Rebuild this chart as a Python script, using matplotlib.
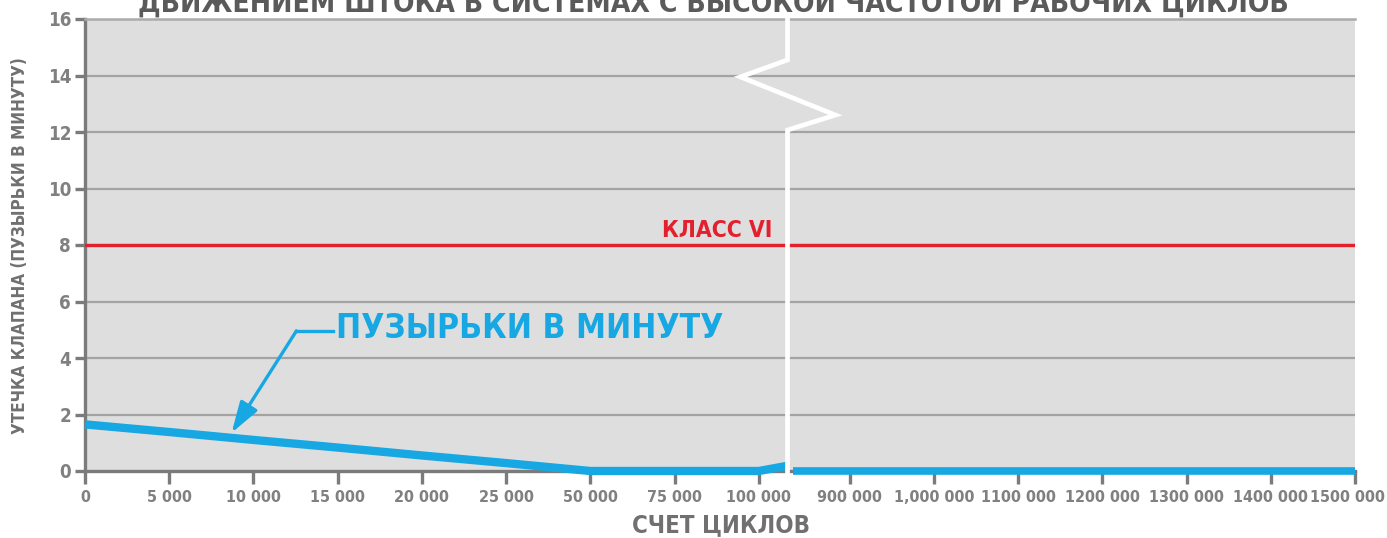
import numpy as np
import matplotlib as mpl
mpl.use('Agg')
import matplotlib.pyplot as plt
from matplotlib.transforms import ScaledTranslation

mpl.rcParams['font.family'] = ['DejaVu Sans']
mpl.rcParams['font.stretch'] = 'condensed'

# данные
tick_cycles = [0, 5000, 10000, 15000, 20000, 25000, 50000, 75000, 100000,
               900000, 1000000, 1100000, 1200000, 1300000, 1400000, 1500000]
tick_labels = ['0', '5 000', '10 000', '15 000', '20 000', '25 000', '50 000',
               '75 000', '100 000', '900 000', '1,000 000', '1100 000',
               '1200 000', '1300 000', '1400 000', '1500 000']
cycles_left = [0, 5000, 10000, 15000, 20000, 25000, 50000, 75000, 100000, 345000]
leak_left = [1.65, 1.38, 1.10, 0.83, 0.55, 0.28, 0.0, 0.0, 0.0, 0.18]
cycles_right = [400000, 900000, 1500000]
leak_right = [0.0, 0.0, 0.0]
class_vi = 8

title = 'ДВИЖЕНИЕМ ШТОКА В СИСТЕМАХ С ВЫСОКОЙ ЧАСТОТОЙ РАБОЧИХ ЦИКЛОВ'
ylabel = 'УТЕЧКА КЛАПАНА (ПУЗЫРЬКИ В МИНУТУ)'
xlabel = 'СЧЕТ ЦИКЛОВ'

GREY = '#7b7b7b'
BLUE = '#17a8e3'
RED = '#e3202e'

# позиции делений: равномерно, с небольшим разрывом после 100 000
gap = 0.077
tick_pos = np.arange(len(tick_cycles)) + np.where(np.arange(len(tick_cycles)) >= 9, gap, 0)


def to_pos(c):
    return np.interp(c, tick_cycles, tick_pos)


def fit(t, size_px, horiz=True, extra=1.0):
    # подгоняем размер шрифта под размер текста на картинке
    bb = t.get_window_extent(renderer)
    cur = bb.width if horiz else bb.height
    t.set_fontsize(t.get_fontsize() * size_px / cur * extra)


fig = plt.figure(figsize=(13.87, 5.38), dpi=100)
renderer = fig.canvas.get_renderer()
ax = fig.add_axes([85 / 1387, 67 / 538, 1270 / 1387, 452 / 538])
ax.set_facecolor('#dedede')

ax.set_xlim(0, tick_pos[-1])
ax.set_ylim(0, 16)
ax.set_yticks(np.arange(0, 17, 2))
ax.set_xticks(tick_pos)
ax.set_xticklabels(tick_labels)

for y in range(2, 16, 2):
    ax.axhline(y, color='#a3a3a3', lw=1.6, zorder=1)

for s in ['left', 'bottom']:
    ax.spines[s].set_color(GREY)
    ax.spines[s].set_linewidth(2.4)
ax.spines['right'].set_visible(False)
ax.spines['top'].set_color('#ababab')
ax.spines['top'].set_linewidth(1.8)

ax.tick_params(axis='both', colors=GREY, width=2.4, length=7,
               labelcolor='#808080')
ax.tick_params(axis='x', pad=5, length=9, labelsize=11.5)
ax.tick_params(axis='y', pad=3, labelsize=13.5)
for lab in ax.get_xticklabels() + ax.get_yticklabels():
    lab.set_fontweight('bold')
# последняя подпись чуть левее, чтобы не обрезалась
last = ax.get_xticklabels()[-1]
last.set_transform(last.get_transform() + ScaledTranslation(-7 / 100, 0, fig.dpi_scale_trans))

# класс VI
ax.axhline(class_vi, color=RED, lw=2.4, zorder=3)
t_cls = ax.text(8.16, class_vi + 0.28, 'КЛАСС VI', color=RED, fontsize=16,
                fontweight='bold', ha='right', va='baseline', zorder=4)

# кривая утечки
ax.plot(to_pos(cycles_left), leak_left, color=BLUE, lw=6,
        solid_capstyle='butt', zorder=5, clip_on=False)
ax.plot(to_pos(cycles_right), leak_right, color=BLUE, lw=5.5,
        solid_capstyle='butt', zorder=5, clip_on=False)

# подпись со стрелкой
t_big = ax.text(2.98, 5.03, 'ПУЗЫРЬКИ В МИНУТУ', color=BLUE, fontsize=29,
                fontweight='bold', ha='left', va='center', zorder=4)
ax.plot([2.94, 2.50], [4.96, 4.96], color=BLUE, lw=2.4, zorder=4)
ax.annotate('', xy=(1.74, 1.35), xytext=(2.51, 4.96),
            arrowprops=dict(arrowstyle='-|>,head_length=1.9,head_width=0.6',
                            color=BLUE, lw=2.4, shrinkA=0, shrinkB=0),
            zorder=4)

# разрыв оси
bx = [8.34, 8.34, 7.78, 8.91, 8.34, 8.34]
by = [16.8, 14.55, 13.95, 12.6, 12.07, -0.15]
ax.plot(bx, by, color='white', lw=3.4, zorder=10, clip_on=False,
        solid_joinstyle='miter')

t_y = fig.text(20 / 1387, 1 - 246 / 538, ylabel, color='#707070', fontsize=15,
               fontweight='bold', rotation=90, ha='center', va='center')
t_x = fig.text(721 / 1387, 1 - 525 / 538, xlabel, color='#707070', fontsize=17,
               fontweight='bold', ha='center', va='center')
t_title = fig.text(0.514, 1 - 12 / 538, title, color='#5a5a5a', fontsize=23,
                   fontweight='bold', ha='center', va='baseline')

fit(t_cls, 106, extra=1.05)
fit(t_big, 388)
fit(t_y, 372, horiz=False, extra=1.02)
fit(t_x, 168, extra=1.06)
fit(t_title, 1154)

fig.savefig('out.png', dpi=100)
